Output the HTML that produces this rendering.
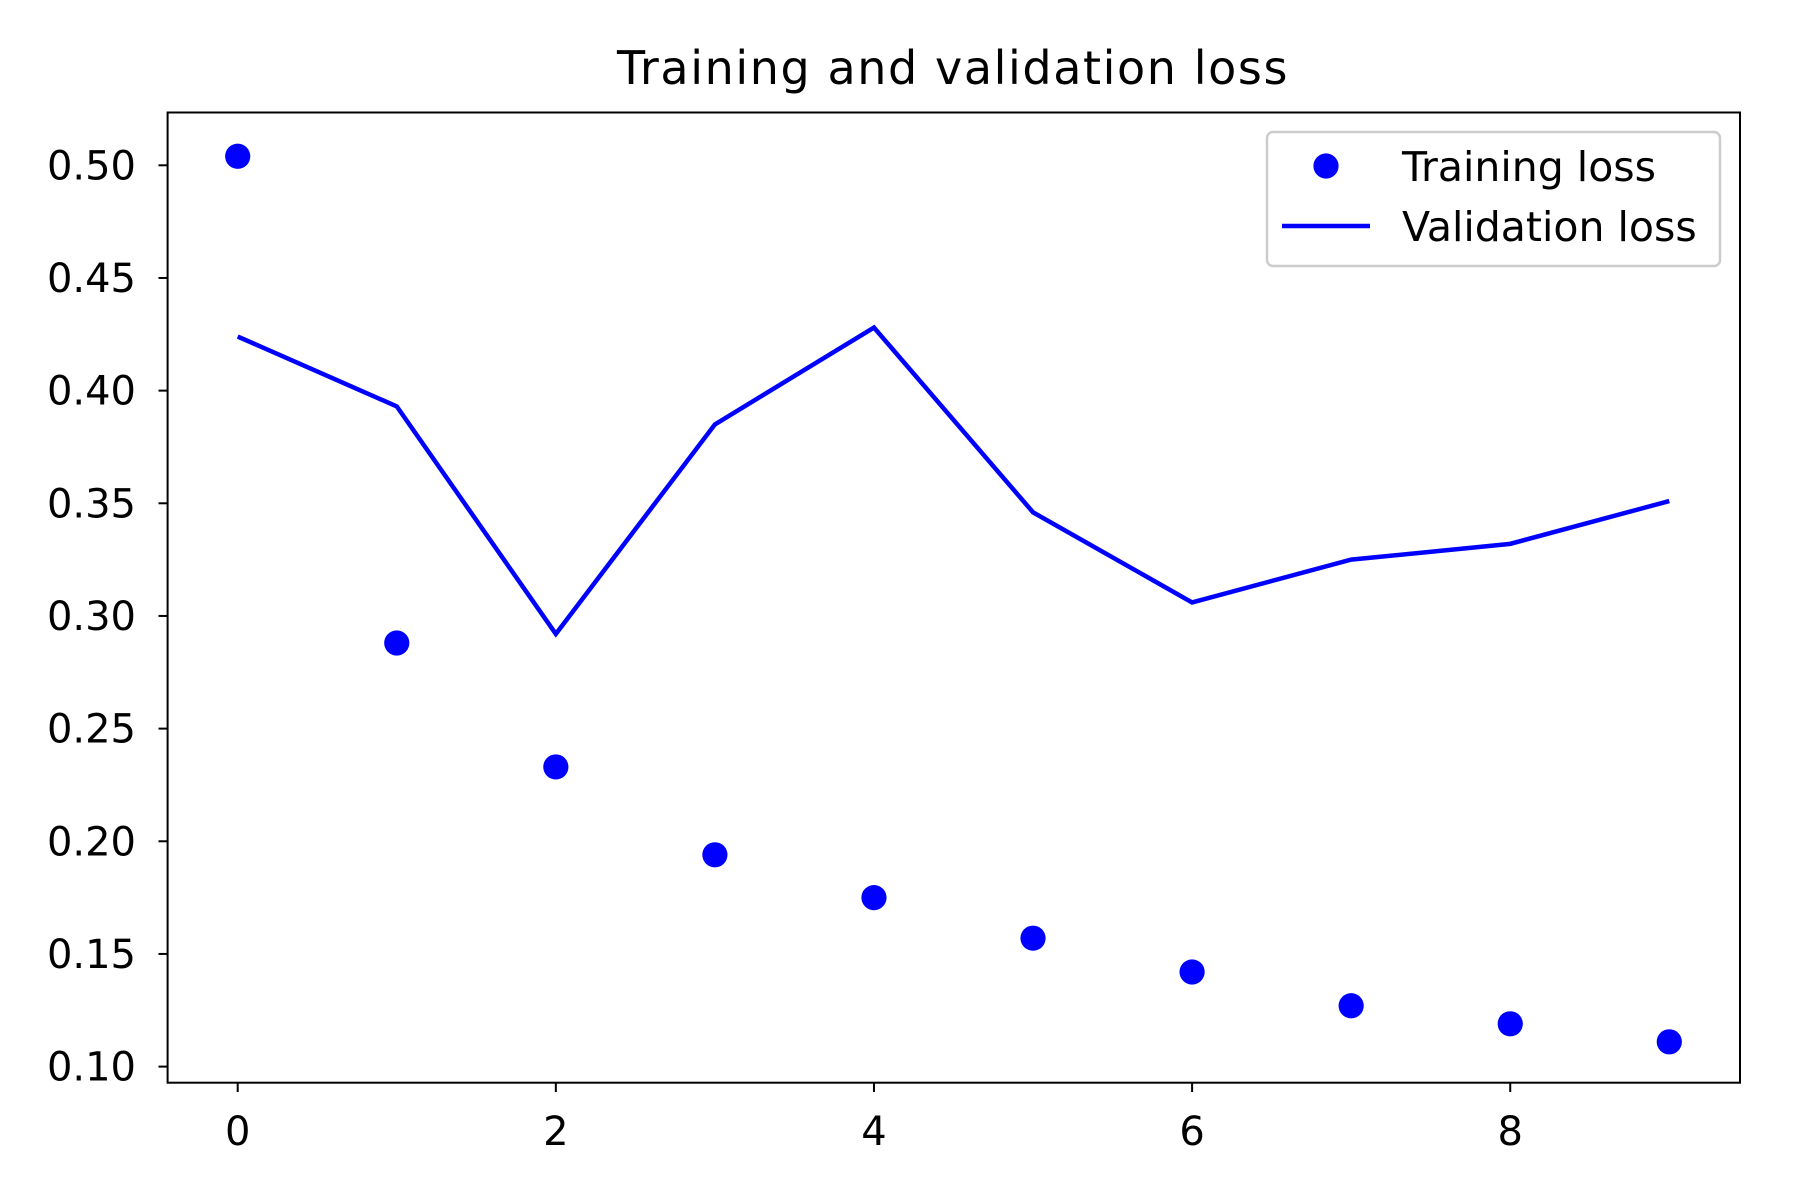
<!DOCTYPE html>
<html><head><meta charset="utf-8"><style>
html,body{margin:0;padding:0;background:#fff;}
svg{display:block;font-family:"DejaVu Sans","Liberation Sans",sans-serif;}
</style></head><body>
<svg id="chart" width="1800" height="1200" viewBox="0 0 1800 1200">
<rect width="1800" height="1200" fill="#fff"/>
<text x="953" y="84" font-size="46" letter-spacing="1.6" text-anchor="middle" fill="#000">Training and validation loss</text>
<g id="ticks"></g>
<g id="marks"></g>
<rect x="167.6" y="112.5" width="1572.4" height="970.2" fill="none" stroke="#000" stroke-width="2"/>
<g>
<rect x="1267" y="132" width="453" height="134" rx="6" fill="#fff" fill-opacity="0.8" stroke="#ccc" stroke-width="2.5"/>
<circle cx="1326" cy="166" r="12.6" fill="#0000ff"/>
<text x="1402" y="181" font-size="41" fill="#000">Training loss</text>
<line x1="1282" y1="226" x2="1370" y2="226" stroke="#0000ff" stroke-width="4.5"/>
<text x="1402" y="241" font-size="41" fill="#000">Validation loss</text>
</g>
</svg>
<script>
const epochs = [0,1,2,3,4,5,6,7,8,9];
const trainingLoss = [0.504,0.288,0.233,0.194,0.175,0.157,0.142,0.127,0.119,0.111];
const validationLoss = [0.424,0.393,0.292,0.385,0.428,0.346,0.306,0.325,0.332,0.351];
const xTicks = [0,2,4,6,8];
const yTicks = [0.10,0.15,0.20,0.25,0.30,0.35,0.40,0.45,0.50];

const NS="http://www.w3.org/2000/svg";
function xs(v){return 237.7+(v-0)*(1669.3-237.7)/9;}
function ys(v){return 1066.6-(v-0.10)*(1066.6-165.3)/0.40;}
const tg=document.getElementById('ticks'), mg=document.getElementById('marks');
function mk(tag,attrs,parent){const e=document.createElementNS(NS,tag);for(const k in attrs)e.setAttribute(k,attrs[k]);parent.appendChild(e);return e;}
xTicks.forEach(t=>{
  const l=mk('line',{x1:xs(t),x2:xs(t),y1:1082.7,y2:1092,stroke:'#000','stroke-width':2},tg);
  
  
  const tx=mk('text',{x:xs(t),y:1145,'font-size':40,'text-anchor':'middle',fill:'#000'},tg);
  tx.textContent=String(t);
  
  
});
yTicks.forEach(t=>{
  const l=mk('line',{x1:158.5,x2:167.6,y1:ys(t),y2:ys(t),stroke:'#000','stroke-width':2},tg);
  
  
  const tx=mk('text',{x:136,y:ys(t)+14,'font-size':40,'text-anchor':'end',fill:'#000'},tg);
  tx.textContent=t.toFixed(2);
  
  
});
const pts=epochs.map((e,i)=>xs(e)+','+ys(validationLoss[i])).join(' ');
const pl=mk('polyline',{points:pts,fill:'none',stroke:'#0000ff','stroke-width':4.5,'stroke-linejoin':'miter'},mg);


epochs.forEach((e,i)=>{
  const c=mk('circle',{cx:xs(e),cy:ys(trainingLoss[i]),r:12.6,fill:'#0000ff'},mg);
  
  
});
</script>
</body></html>
